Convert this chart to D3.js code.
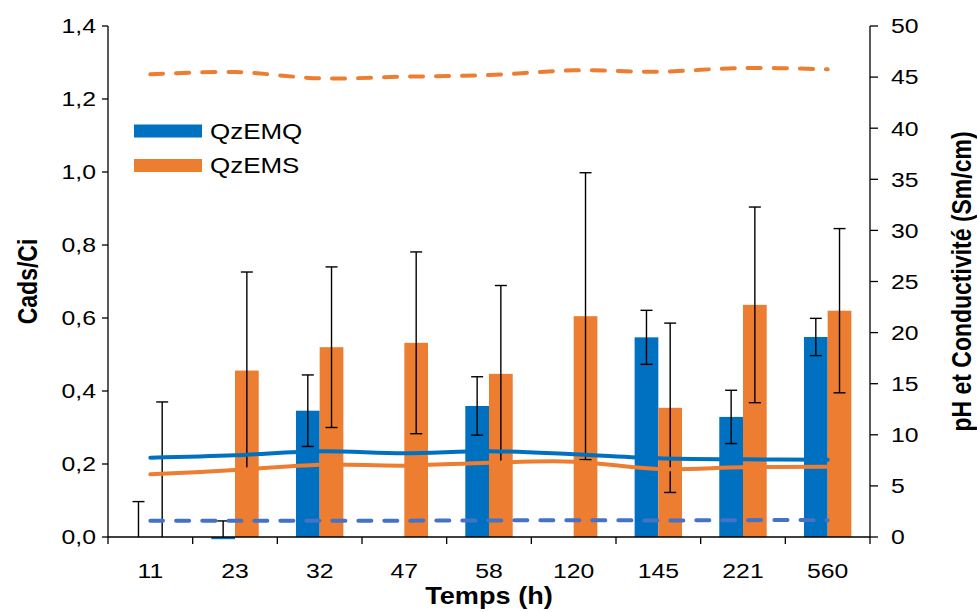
<!DOCTYPE html>
<html><head><meta charset="utf-8">
<script src="https://cdn.jsdelivr.net/npm/d3@7"></script>
<style>body{margin:0;background:#fff}svg{display:block}text{font-family:"Liberation Sans",Arial,sans-serif}</style>
</head><body>
<svg id="c" width="977" height="612"></svg>
<script>
const categories = ["11","23","32","47","58","120","145","221","560"];
const qzEMQ = [0, -0.006, 0.346, 0, 0.359, 0, 0.547, 0.329, 0.548];
const qzEMQErr = [0.097, 0.05, 0.098, null, 0.08, null, 0.074, 0.073, 0.051];
const qzEMS = [0, 0.456, 0.52, 0.532, 0.447, 0.605, 0.354, 0.636, 0.62];
const qzEMSErr = [0.37, 0.27, 0.22, 0.249, 0.242, 0.393, 0.232, 0.268, 0.225];
const lineQzEMQ = [7.76, 8.0, 8.4, 8.2, 8.4, 8.1, 7.7, 7.6, 7.55];
const lineQzEMS = [6.13, 6.55, 7.08, 6.98, 7.27, 7.37, 6.65, 6.82, 6.88];
const dashQzEMQ = [1.6, 1.6, 1.6, 1.6, 1.62, 1.65, 1.62, 1.65, 1.65];
const dashQzEMS = [45.27, 45.5, 44.88, 45.04, 45.2, 45.66, 45.53, 45.89, 45.76];
const leftTicks = [0,0.2,0.4,0.6,0.8,1.0,1.2,1.4];
const rightTicks = [0,5,10,15,20,25,30,35,40,45,50];
const seriesNames = ["QzEMQ","QzEMS"];

const BLUE="#0070C0", ORANGE="#ED7D31", LBLUE="#4472C4";
const L=108, R=870, T=26, B=537;
const SX=1.18;
const svg=d3.select("#c");
const x=d3.scaleBand().domain(categories).range([L,R]);
const y=d3.scaleLinear().domain([0,1.4]).range([B,T]);
const y2=d3.scaleLinear().domain([0,50]).range([B,T]);
const fmt=d=>d3.format(".1f")(d).replace(".",",");
const bw=x.bandwidth()*0.28;
const xb=i=>x(categories[i])+x.bandwidth()*0.5-bw;
const xo=i=>x(categories[i])+x.bandwidth()*0.5;

// bars
const barsData=[];
categories.forEach((c,i)=>{
  barsData.push({x:xb(i),v:qzEMQ[i],e:qzEMQErr[i],col:BLUE});
  barsData.push({x:xo(i),v:qzEMS[i],e:qzEMSErr[i],col:ORANGE});
});
svg.append("g").selectAll("rect").data(barsData.filter(d=>d.v!==0)).join("rect")
  .attr("x",d=>d.x).attr("width",bw)
  .attr("y",d=>Math.min(y(d.v),y(0))).attr("height",d=>Math.abs(y(d.v)-y(0)))
  .attr("fill",d=>d.col);

// error bars
const eg=svg.append("g").attr("stroke","#000").attr("stroke-width",1.4);
barsData.filter(d=>d.e!=null).forEach(d=>{
  const cx=d.x+bw/2;
  const hi=d.v+d.e, lo=Math.max(0,d.v-d.e);
  eg.append("line").attr("x1",cx).attr("x2",cx).attr("y1",y(hi)).attr("y2",y(lo));
  eg.append("line").attr("x1",cx-6).attr("x2",cx+6).attr("y1",y(hi)).attr("y2",y(hi));
  if(d.v-d.e>0) eg.append("line").attr("x1",cx-6).attr("x2",cx+6).attr("y1",y(lo)).attr("y2",y(lo));
});

// lines
const cx=i=>x(categories[i])+x.bandwidth()/2;
const line=d3.line().x((d,i)=>cx(i)).y(d=>y2(d)).curve(d3.curveCatmullRom.alpha(0.5));
[[lineQzEMQ,BLUE,null],[lineQzEMS,ORANGE,null],[dashQzEMQ,LBLUE,"13,13"],[dashQzEMS,ORANGE,"13,13"]].forEach(([data,col,dash])=>{
  svg.append("path").datum(data).attr("d",line).attr("fill","none")
    .attr("stroke",col).attr("stroke-width",4).attr("stroke-linecap","round")
    .attr("stroke-dasharray",dash);
});

// axes
const ax=svg.append("g").attr("stroke","#000").attr("stroke-width",1.3);
ax.append("line").attr("x1",L).attr("x2",L).attr("y1",T).attr("y2",B);
ax.append("line").attr("x1",R).attr("x2",R).attr("y1",T).attr("y2",B);
ax.append("line").attr("x1",L).attr("x2",R).attr("y1",B).attr("y2",B);
leftTicks.forEach(t=>ax.append("line").attr("x1",L-6).attr("x2",L).attr("y1",y(t)).attr("y2",y(t)));
rightTicks.forEach(t=>ax.append("line").attr("x1",R).attr("x2",R+8).attr("y1",y2(t)).attr("y2",y2(t)));
categories.concat(["end"]).forEach((c,i)=>{
  const xx=L+i*x.step();
  ax.append("line").attr("x1",xx).attr("x2",xx).attr("y1",B).attr("y2",B+7);
});

const fs=21;
function htext(g,xx,yy,str,size,anchor,bold){
  return g.append("text").attr("transform",`translate(${xx},${yy}) scale(${SX},1)`)
    .attr("dy","0.35em").attr("text-anchor",anchor).attr("font-size",size)
    .attr("font-weight",bold?"bold":null).text(str);
}
const tg=svg.append("g");
leftTicks.forEach(t=>htext(tg,L-12,y(t),fmt(t),fs,"end"));
rightTicks.forEach(t=>htext(tg,R+21,y2(t),t,fs,"start"));
categories.forEach(c=>htext(tg,x(c)+x.bandwidth()/2,B+34,c,fs,"middle"));

tg.append("text").attr("transform",`translate(${(L+R)/2},604) scale(${SX},1)`).attr("text-anchor","middle")
  .attr("font-size",23).attr("font-weight","bold").text("Temps (h)");
tg.append("text").attr("transform",`translate(37,${(T+B)/2}) scale(${SX},1) rotate(-90)`).attr("text-anchor","middle")
  .attr("font-size",23).attr("font-weight","bold").text("Cads/Ci");
tg.append("text").attr("transform",`translate(971,${(T+B)/2}) scale(${SX},1) rotate(-90)`).attr("text-anchor","middle")
  .attr("font-size",23).attr("font-weight","bold").text("pH et Conductivité (Sm/cm)");

// legend
const lg=svg.append("g");
seriesNames.forEach((n,i)=>{
  const yy=131+i*34.5;
  lg.append("rect").attr("x",134).attr("y",yy-6.5).attr("width",68).attr("height",13).attr("fill",i?ORANGE:BLUE);
  htext(lg,210,yy,n,22,"start");
});
</script>
</body></html>
